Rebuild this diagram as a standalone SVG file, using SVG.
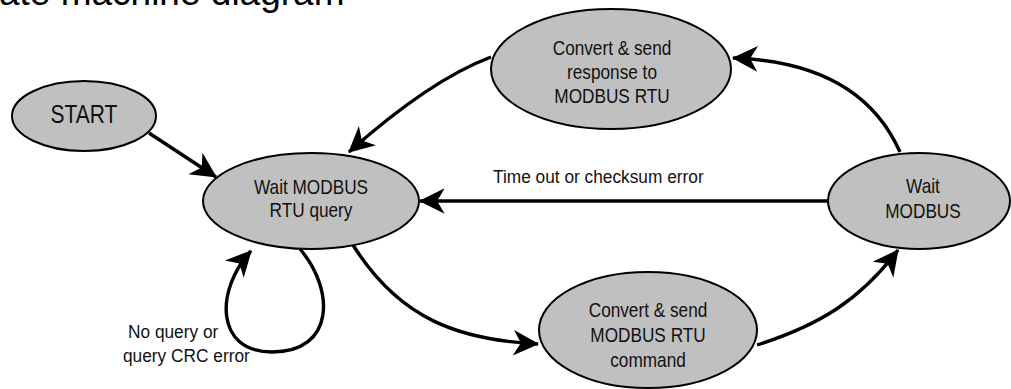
<svg xmlns="http://www.w3.org/2000/svg" width="1011" height="389" viewBox="0 0 1011 389">
<style>
.node ellipse{fill:#c0c0c0;stroke:#000;stroke-width:2}
.nt{font-family:"Liberation Sans",Arial,sans-serif;font-size:21px;fill:#111;text-anchor:middle}
.lbl{font-family:"Liberation Sans",Arial,sans-serif;font-size:19px;fill:#111}
.title{font-family:"Liberation Sans",Arial,sans-serif;font-size:37px;fill:#000}
.edges path{fill:none;stroke:#000;stroke-width:3.4}
</style>
<defs>
<marker id="ah" markerUnits="userSpaceOnUse" markerWidth="30" markerHeight="30" viewBox="-25 -14 27 28" refX="0" refY="0" orient="auto">
<path d="M1,0 L-23,-12 L-16,0 L-23,12 Z" fill="#000"/>
</marker>
</defs>
<rect width="1011" height="389" fill="#fff"/>
<text class="title" x="-36" y="5">State machine diagram</text>
<g class="edges" id="connectors">
<path d="M149,133 L216,177" marker-end="url(#ah)"/>
<path d="M491,57 Q430,80 349,152" marker-end="url(#ah)"/>
<path d="M900,152 Q860,62 733,58" marker-end="url(#ah)"/>
<path d="M828,201 L420,201" marker-end="url(#ah)"/>
<path d="M353,245 C400,320 460,340 538,344" marker-end="url(#ah)"/>
<path d="M757,345 C820,325 860,300 898,250" marker-end="url(#ah)"/>
<path d="M300,249 C335,290 335,352 272,352 C215,352 215,290 251,251" marker-end="url(#ah)"/>
</g>
<g class="node" id="start">
<ellipse cx="84" cy="116" rx="72" ry="35"/>
<text class="nt" style="font-size:25px" transform="translate(84,123) scale(0.84,1)">START</text>
</g>
<g class="node" id="wait-query">
<ellipse cx="311" cy="201" rx="108" ry="48"/>
<text class="nt" transform="translate(311,194) scale(0.82,1)">Wait MODBUS</text>
<text class="nt" transform="translate(311,217) scale(0.82,1)">RTU query</text>
</g>
<g class="node" id="send-response">
<ellipse cx="611" cy="69" rx="120" ry="60"/>
<text class="nt" transform="translate(612,55) scale(0.82,1)">Convert &amp; send</text>
<text class="nt" transform="translate(612,79) scale(0.82,1)">response to</text>
<text class="nt" transform="translate(612,103) scale(0.82,1)">MODBUS RTU</text>
</g>
<g class="node" id="wait-modbus">
<ellipse cx="919" cy="201" rx="91" ry="48"/>
<text class="nt" transform="translate(923,193) scale(0.82,1)">Wait</text>
<text class="nt" transform="translate(923,218) scale(0.82,1)">MODBUS</text>
</g>
<g class="node" id="send-command">
<ellipse cx="648" cy="330" rx="109" ry="58"/>
<text class="nt" transform="translate(648,317) scale(0.82,1)">Convert &amp; send</text>
<text class="nt" transform="translate(648,342) scale(0.82,1)">MODBUS RTU</text>
<text class="nt" transform="translate(648,367) scale(0.82,1)">command</text>
</g>
<text class="lbl" transform="translate(493,183) scale(0.91,1)">Time out or checksum error</text>
<text class="lbl" transform="translate(128,338) scale(0.91,1)">No query or</text>
<text class="lbl" transform="translate(123,362) scale(0.91,1)">query CRC error</text>
</svg>
